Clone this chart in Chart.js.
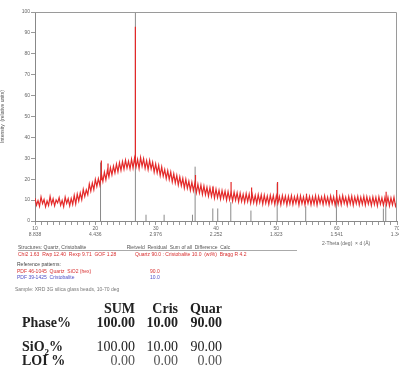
<!DOCTYPE html>
<html>
<head>
<meta charset="utf-8">
<script src="https://cdn.jsdelivr.net/npm/chart.js@4/dist/chart.umd.min.js"></script>
<style>
  html, body { margin: 0; padding: 0; background: #fff; }
  body { width: 399px; height: 374px; position: relative; overflow: hidden; font-family: "Liberation Sans", Arial, sans-serif; }
  #wrap { position: absolute; left: 0; top: 0; width: 399px; height: 250px; }
  .t { position: absolute; white-space: nowrap; font-size: 5px; line-height: 6px; color: #666; }
  .red { color: #d83030; }
  .blue { color: #5050c8; }
  .tab { position: absolute; white-space: nowrap; font-family: "Liberation Serif", "DejaVu Serif", serif; font-size: 14px; line-height: 14px; color: #222; }
  .b { font-weight: bold; }
  .r { text-align: right; width: 50px; }
</style>
</head>
<body>
<div id="wrap"><canvas id="grafica"></canvas></div>

<div class="t" style="left:322px;top:240px;">2-Theta (deg) &nbsp;× d (Å)</div>
<div class="t" style="left:18px;top:244px;width:279px;border-bottom:1px solid #aaa;color:#555;">Structures: Quartz, Cristobalite &nbsp; &nbsp; &nbsp; &nbsp; &nbsp; &nbsp; &nbsp; &nbsp; &nbsp; &nbsp; &nbsp; &nbsp; &nbsp; &nbsp; Rietveld &nbsp;Residual &nbsp;Sum of all &nbsp;Difference &nbsp;Calc</div>
<div class="t red" style="left:18px;top:251px;">Chi2 1.63 &nbsp;Rwp 12.40 &nbsp;Rexp 9.71 &nbsp;GOF 1.28</div>
<div class="t red" style="left:135px;top:251px;">Quartz 90.0 : Cristobalite 10.0 &nbsp;(wt%) &nbsp;Bragg R 4.2</div>
<div class="t" style="left:17px;top:261px;color:#444;">Reference patterns:</div>
<div class="t red" style="left:17px;top:268px;">PDF 46-1045 &nbsp;Quartz &nbsp;SiO2 (hex)</div>
<div class="t red" style="left:150px;top:268px;">90.0</div>
<div class="t blue" style="left:17px;top:274px;">PDF 39-1425 &nbsp;Cristobalite</div>
<div class="t blue" style="left:150px;top:274px;">10.0</div>
<div class="t" style="left:15px;top:286px;color:#777;">Sample: XRD 3G silica glass beads, 10-70 deg</div>

<div class="tab b r" style="left:85px;top:302px;">SUM</div>
<div class="tab b r" style="left:128px;top:302px;">Cris</div>
<div class="tab b r" style="left:172px;top:302px;">Quar</div>

<div class="tab b" style="left:22px;top:316px;">Phase%</div>
<div class="tab b r" style="left:85px;top:316px;">100.00</div>
<div class="tab b r" style="left:128px;top:316px;">10.00</div>
<div class="tab b r" style="left:172px;top:316px;">90.00</div>

<div class="tab b" style="left:22px;top:340px;">SiO<sub style="font-size:9px;line-height:0;">2</sub>%</div>
<div class="tab r" style="left:85px;top:340px;">100.00</div>
<div class="tab r" style="left:128px;top:340px;">10.00</div>
<div class="tab r" style="left:172px;top:340px;">90.00</div>

<div class="tab b" style="left:22px;top:354px;">LOI %</div>
<div class="tab r" style="left:85px;top:354px;color:#555;">0.00</div>
<div class="tab r" style="left:128px;top:354px;color:#555;">0.00</div>
<div class="tab r" style="left:172px;top:354px;color:#555;">0.00</div>

<script>
// Eje 2-theta: de 10 a 70 grados, cada 0.25
const anguloInicio = 10;
const anguloPaso = 0.25;

// Intensidad medida (unidades relativas), 8 valores por fila = 2 grados
const intensidad = [
  11.0, 7.6, 9.8, 7.0, 11.5, 8.3, 10.3, 6.8,
  9.6, 7.4, 11.8, 8.1, 10.6, 7.2, 10.1, 8.7,
  11.2, 7.5, 9.9, 6.9, 11.4, 8.4, 10.7, 7.3,
  10.8, 7.9, 12.3, 8.2, 12.9, 9.6, 13.4, 10.2,
  15.1, 11.7, 14.9, 12.6, 17.7, 14.3, 18.2, 15.0,
  19.9, 16.5, 20.3, 17.2, 22.6, 18.9, 23.4, 19.7,
  24.3, 21.0, 25.6, 22.1, 26.3, 23.0, 27.2, 23.5,
  27.9, 24.2, 28.4, 24.8, 29.1, 25.3, 28.6, 25.0,
  29.6, 25.4, 30.1, 25.9, 29.5, 25.1, 30.4, 26.2,
  29.8, 25.2, 28.9, 24.6, 29.0, 24.9, 28.1, 23.4,
  27.3, 23.0, 26.7, 21.8, 25.9, 21.5, 24.6, 20.3,
  24.1, 19.9, 23.5, 18.7, 22.6, 18.2, 21.8, 17.2,
  21.1, 16.9, 20.4, 15.8, 19.9, 15.6, 19.0, 14.7,
  18.6, 14.5, 18.1, 13.6, 17.6, 13.4, 17.2, 12.7,
  16.8, 12.6, 16.1, 11.9, 15.9, 11.8, 15.6, 11.0,
  15.2, 11.2, 14.7, 10.5, 14.6, 10.9, 14.3, 10.0,
  14.1, 10.2, 13.6, 9.6, 13.8, 10.0, 13.5, 9.2,
  13.3, 9.4, 12.8, 8.9, 13.1, 9.3, 12.9, 8.5,
  12.7, 8.8, 12.3, 8.3, 12.6, 8.9, 12.5, 8.1,
  12.4, 8.5, 11.9, 8.0, 12.3, 8.7, 12.2, 7.9,
  12.1, 8.4, 11.7, 7.8, 12.2, 8.6, 11.9, 7.7,
  11.8, 8.2, 12.1, 7.9, 11.6, 8.5, 12.0, 7.6,
  12.0, 8.3, 11.5, 7.7, 11.9, 8.4, 11.7, 7.8,
  11.6, 8.1, 12.1, 7.6, 11.8, 8.5, 11.5, 7.9,
  12.0, 8.2, 11.4, 7.7, 11.9, 8.3, 11.6, 7.5,
  11.8, 8.0, 11.6, 7.8, 12.1, 8.4, 11.3, 7.6,
  11.7, 8.2, 11.9, 7.5, 11.5, 8.3, 11.8, 7.7,
  11.4, 8.0, 11.8, 7.6, 11.6, 8.1, 11.2, 7.4,
  11.5, 7.9, 11.3, 7.3, 11.6, 8.0, 11.1, 7.5,
  11.2, 7.8, 11.4, 7.2, 11.0, 7.7, 11.3, 7.1,
  9.2
];

// Picos finos (cuarzo) sobre el halo amorfo
const picosAngulo = [21.0, 22.1, 26.64, 36.6, 39.5, 42.5, 45.9, 50.2, 55.0, 60.0, 68.2];
const picosBase   = [19.5, 22.5, 27.5, 16.5, 13.5, 12.0, 11.0, 10.5, 10.0, 10.0, 9.5];
const picosAltura = [29.0, 27.5, 93.0, 22.0, 16.5, 18.7, 16.0, 18.7, 13.0, 14.8, 14.0];

// Patrón de referencia (barras grises)
const refAngulo = [20.86, 26.64, 28.4, 31.4, 36.1, 36.54, 39.47, 40.29, 42.45, 45.79, 50.14, 54.87, 59.96, 67.74, 68.14];
const refAltura = [28, 100, 3, 3, 3, 26, 6, 6, 9, 5, 18, 7, 10, 6, 8];

// Etiquetas del eje x: grados y espaciado d (Å)
const ticksGrados = [10, 20, 30, 40, 50, 60, 70];
const ticksD = ["8.838", "4.436", "2.976", "2.252", "1.823", "1.541", "1.343"];

const yTicks = [0, 10, 20, 30, 40, 50, 60, 70, 80, 90, 100];

const puntos = intensidad.map((v, i) => ({ x: anguloInicio + i * anguloPaso, y: v }));

const picos = [];
picosAngulo.forEach((a, i) => {
  picos.push({ x: a, y: picosBase[i] }, { x: a, y: picosAltura[i] }, { x: a, y: null });
});

const barras = [];
refAngulo.forEach((a, i) => {
  barras.push({ x: a, y: 0 }, { x: a, y: refAltura[i] }, { x: a, y: null });
});

const marco = {
  id: "marco",
  afterDraw(chart) {
    const { ctx, chartArea: a } = chart;
    ctx.save();
    ctx.strokeStyle = "#9a9a9a";
    ctx.lineWidth = 1;
    ctx.beginPath();
    ctx.moveTo(a.left, a.top + 0.5);
    ctx.lineTo(a.right - 0.5, a.top + 0.5);
    ctx.lineTo(a.right - 0.5, a.bottom);
    ctx.stroke();
    ctx.restore();
  },
};

Chart.defaults.font.family = "'Liberation Sans', Arial, sans-serif";
Chart.defaults.color = "#666";

new Chart(document.getElementById("grafica"), {
  type: "line",
  data: {
    datasets: [
      {
        label: "Medido",
        data: puntos,
        borderColor: "#e42a2a",
        borderWidth: 1.2,
        pointRadius: 0,
        tension: 0,
      },
      {
        label: "Picos",
        data: picos,
        borderColor: "#e42a2a",
        borderWidth: 1.2,
        pointRadius: 0,
        spanGaps: false,
      },
      {
        label: "Referencia",
        data: barras,
        borderColor: "#8a8a8a",
        borderWidth: 1,
        pointRadius: 0,
        spanGaps: false,
      },
    ],
  },
  options: {
    responsive: true,
    maintainAspectRatio: false,
    animation: false,
    layout: { padding: { top: 12, right: 2, left: 0, bottom: 0 } },
    plugins: { legend: { display: false }, tooltip: { enabled: false } },
    scales: {
      x: {
        type: "linear",
        min: 10,
        max: 70,
        grid: { drawOnChartArea: false, tickLength: 4, color: "#999" },
        border: { color: "#888" },
        ticks: {
          stepSize: 1,
          autoSkip: false,
          maxRotation: 0,
          padding: 1,
          font: { size: 5 },
          color: "#666",
          callback: (v) => {
            const k = ticksGrados.indexOf(v);
            return k >= 0 ? [String(v), ticksD[k]] : "";
          },
        },
        afterFit: (s) => {
          s.height = 29;
          s.paddingLeft = 0;
          s.paddingRight = 0;
        },
      },
      y: {
        min: 0,
        max: 100,
        grid: { drawOnChartArea: false, tickLength: 4, color: "#999" },
        border: { color: "#888" },
        ticks: {
          stepSize: 10,
          padding: 1,
          font: { size: 5 },
          color: "#666",
          callback: (v) => (yTicks.includes(v) ? String(v) : ""),
        },
        title: {
          display: true,
          text: "Intensity  (relative units)",
          font: { size: 5 },
          color: "#555",
          padding: 0,
        },
        afterFit: (s) => {
          s.width = 35;
          s.paddingTop = 0;
          s.paddingBottom = 0;
        },
      },
    },
  },
  plugins: [marco],
});
</script>
</body>
</html>
